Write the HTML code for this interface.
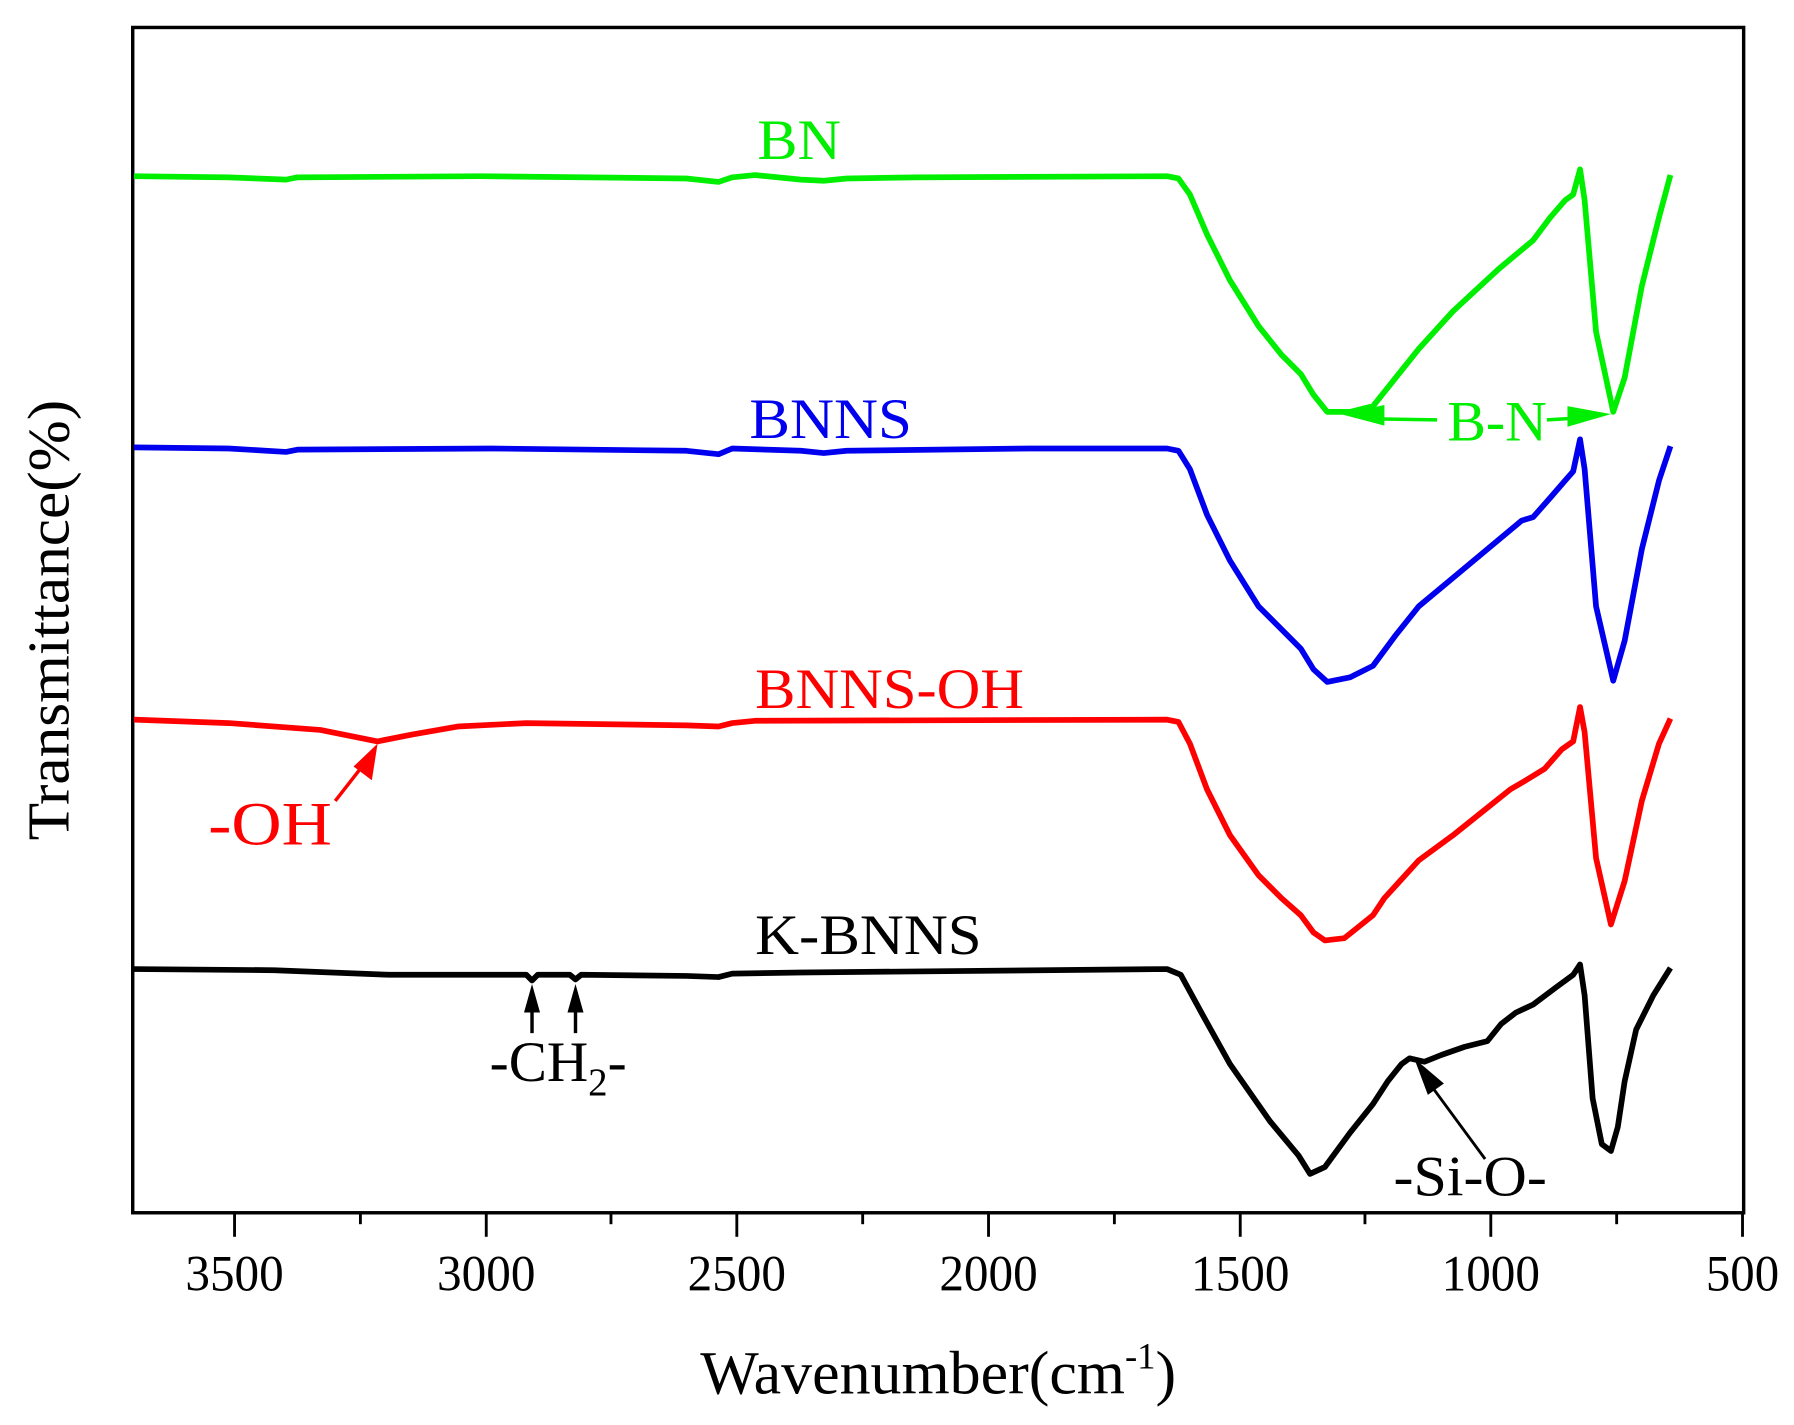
<!DOCTYPE html>
<html><head><meta charset="utf-8"><style>
html,body{margin:0;padding:0;background:#fff;}
svg{display:block;}
text{font-family:"Liberation Serif",serif;}
</style></head><body>
<svg width="1794" height="1425" viewBox="0 0 1568 1245.5" preserveAspectRatio="none" xmlns="http://www.w3.org/2000/svg">
<rect width="1568" height="1245.5" fill="#fff"/>
<rect x="116" y="24" width="1408" height="1036" fill="none" stroke="#000" stroke-width="3"/>
<g stroke="#000" stroke-width="2.5">
<line x1="205" y1="1060" x2="205" y2="1081"/><line x1="425" y1="1060" x2="425" y2="1081"/>
<line x1="644" y1="1060" x2="644" y2="1081"/><line x1="864" y1="1060" x2="864" y2="1081"/>
<line x1="1084" y1="1060" x2="1084" y2="1081"/><line x1="1303" y1="1060" x2="1303" y2="1081"/>
<line x1="1523" y1="1060" x2="1523" y2="1081"/>
<line x1="315" y1="1060" x2="315" y2="1070"/><line x1="534" y1="1060" x2="534" y2="1070"/>
<line x1="754" y1="1060" x2="754" y2="1070"/><line x1="974" y1="1060" x2="974" y2="1070"/>
<line x1="1193" y1="1060" x2="1193" y2="1070"/><line x1="1413" y1="1060" x2="1413" y2="1070"/>
</g>
<g font-size="44" fill="#000" lengthAdjust="spacingAndGlyphs">
<text x="162" y="1128" textLength="86" lengthAdjust="spacingAndGlyphs">3500</text>
<text x="382" y="1128" textLength="86" lengthAdjust="spacingAndGlyphs">3000</text>
<text x="601" y="1128" textLength="86" lengthAdjust="spacingAndGlyphs">2500</text>
<text x="821" y="1128" textLength="86" lengthAdjust="spacingAndGlyphs">2000</text>
<text x="1041" y="1128" textLength="86" lengthAdjust="spacingAndGlyphs">1500</text>
<text x="1260" y="1128" textLength="86" lengthAdjust="spacingAndGlyphs">1000</text>
<text x="1491" y="1128" textLength="64" lengthAdjust="spacingAndGlyphs">500</text>
</g>
<text x="612" y="1218" font-size="54" fill="#000" textLength="416" lengthAdjust="spacingAndGlyphs">Wavenumber(cm<tspan font-size="32" dy="-22">-1</tspan><tspan dy="22">)</tspan></text>
<text transform="translate(60,542) rotate(-90)" font-size="52" text-anchor="middle" fill="#000" textLength="385" lengthAdjust="spacingAndGlyphs">Transmittance(%)</text>

<g fill="none" stroke-width="5" stroke-linejoin="round">
<polyline stroke="#00ee00" points="117,154 200,155 250,157 260,155 420,154 600,156 628,159 640,155 660,153 700,157 720,158 740,156 800,155 1020,154 1030,156 1040,170 1055,205 1075,245 1100,285 1120,310 1137,327 1148,345 1160,360 1180,360 1200,355 1220,330 1240,305 1270,272 1310,235 1340,210 1355,190 1368,175 1375,170 1381,148 1385,175 1395,290 1410,360 1420,330 1435,250 1450,190 1460,153"/>
<polyline stroke="#0000ee" points="117,391 200,392 250,395 260,393 430,392 600,394 628,397 640,392 700,394 720,396 740,394 900,392 1020,392 1030,394 1040,410 1055,450 1075,490 1100,530 1120,550 1137,567 1148,585 1160,596 1180,592 1200,582 1220,555 1240,530 1270,505 1300,480 1330,455 1340,452 1355,435 1368,420 1375,412 1381,384 1385,410 1395,530 1410,595 1420,560 1435,480 1450,420 1460,390"/>
<polyline stroke="#ff0000" points="117,629 200,632 280,638 330,648 360,642 400,635 460,632 600,634 628,635 640,632 660,630 1020,629 1030,631 1040,650 1055,690 1075,730 1100,765 1120,785 1137,800 1148,815 1158,822 1175,820 1190,808 1200,800 1210,785 1220,774 1240,752 1270,730 1300,706 1320,690 1332,683 1350,672 1365,655 1375,648 1381,618 1385,640 1395,750 1408,808 1420,770 1435,700 1450,650 1460,628"/>
<polyline stroke="#000" points="117,847 240,848 340,852 460,852 465,857 470,852 498,852 503,856 508,852 600,853 628,854 640,851 700,850 1020,847 1032,852 1050,885 1075,930 1110,980 1135,1010 1145,1026 1158,1020 1180,990 1200,965 1213,945 1225,930 1232,925 1245,928 1260,922 1280,915 1300,910 1312,895 1325,885 1340,878 1360,863 1375,852 1381,843 1385,870 1392,960 1400,1000 1408,1006 1414,985 1420,945 1430,900 1445,870 1460,846"/>
</g>

<g font-size="50">
<text x="662" y="139" fill="#00ee00" textLength="73" lengthAdjust="spacingAndGlyphs">BN</text>
<text x="655" y="383" fill="#0000ee" textLength="142" lengthAdjust="spacingAndGlyphs">BNNS</text>
<text x="660" y="619" fill="#ff0000" textLength="235" lengthAdjust="spacingAndGlyphs">BNNS-OH</text>
<text x="660" y="834" fill="#000" textLength="198" lengthAdjust="spacingAndGlyphs">K-BNNS</text>
<text x="1265" y="385" fill="#00ee00" textLength="87" lengthAdjust="spacingAndGlyphs">B-N</text>
<text x="182" y="738" font-size="54" fill="#ff0000" textLength="108" lengthAdjust="spacingAndGlyphs">-OH</text>
<text x="428" y="945" fill="#000">-CH<tspan font-size="34" dy="12">2</tspan><tspan dy="-12">-</tspan></text>
<text x="1218" y="1045" fill="#000" textLength="134" lengthAdjust="spacingAndGlyphs">-Si-O-</text>
</g>

<g stroke-width="3">
<line x1="1256" y1="367" x2="1195" y2="366" stroke="#00ee00"/>
<polygon points="1172,362 1210,354 1210,372" fill="#00ee00"/>
<line x1="1352" y1="367" x2="1385" y2="365" stroke="#00ee00"/>
<polygon points="1408,362 1370,355 1370,373" fill="#00ee00"/>
<line x1="293" y1="700" x2="318" y2="668" stroke="#ff0000"/>
<polygon points="330,650 325,682 309,670" fill="#ff0000"/>
<line x1="465" y1="903" x2="465" y2="880" stroke="#000"/>
<polygon points="465,860 458,885 472,885" fill="#000"/>
<line x1="503" y1="903" x2="503" y2="880" stroke="#000"/>
<polygon points="503,860 496,885 510,885" fill="#000"/>
<line x1="1298" y1="1013" x2="1248" y2="945" stroke="#000" stroke-width="2.5"/>
<polygon points="1236,925 1262,947 1248,957" fill="#000"/>
</g>
</svg>
</body></html>
